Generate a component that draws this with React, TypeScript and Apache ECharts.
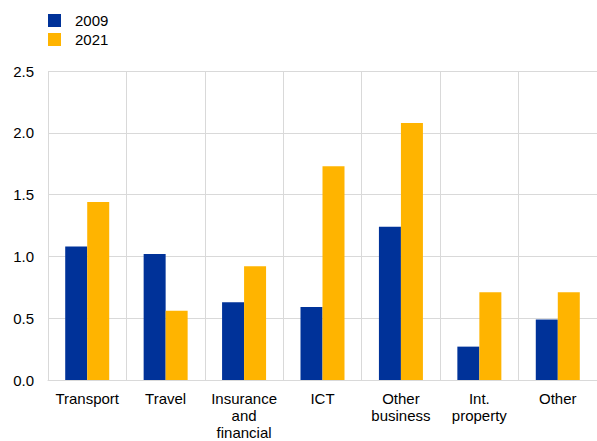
import React, { useEffect, useRef } from "react";
import * as echarts from "echarts";

const categories = ["Transport", "Travel", "Insurance\nand\nfinancial", "ICT", "Other\nbusiness", "Int.\nproperty", "Other"];
const values2009 = [1.08, 1.02, 0.63, 0.59, 1.24, 0.27, 0.49];
const values2021 = [1.44, 0.56, 0.92, 1.73, 2.08, 0.71, 0.71];
const yTicks = { min: 0, max: 2.5, interval: 0.5 };

const FONT = "Arial, 'Liberation Sans', sans-serif";

export default function App() {
  const ref = useRef<HTMLDivElement>(null);
  useEffect(() => {
    if (!ref.current) return;
    const chart = echarts.init(ref.current, undefined, { renderer: "svg" });
    chart.setOption({
      animation: false,
      textStyle: { fontFamily: FONT },
      legend: {
        orient: "vertical",
        left: 43,
        top: 8,
        itemWidth: 13,
        itemHeight: 13,
        itemGap: 4,
        icon: "rect",
        textStyle: { fontSize: 15, color: "#000", fontFamily: FONT, padding: [0, 0, 0, 9] },
        data: ["2009", "2021"],
      },
      grid: { left: 48, right: 0, top: 71, bottom: 61, containLabel: false, outerBoundsMode: "none" },
      xAxis: {
        type: "category",
        data: categories,
        boundaryGap: true,
        axisLine: { show: true, lineStyle: { color: "#d9d9d9", width: 1 } },
        axisTick: { show: false },
        splitLine: { show: true, interval: 0, lineStyle: { color: "#d9d9d9", width: 1 } },
        axisLabel: {
          interval: 0,
          margin: 10,
          fontSize: 15,
          lineHeight: 17,
          color: "#000",
          fontFamily: FONT,
        },
      },
      yAxis: {
        type: "value",
        min: yTicks.min,
        max: yTicks.max,
        interval: yTicks.interval,
        axisLine: { show: false },
        axisTick: { show: false },
        splitLine: { show: true, lineStyle: { color: "#d9d9d9", width: 1 } },
        axisLabel: {
          fontSize: 15,
          color: "#000",
          margin: 14,
          fontFamily: FONT,
          formatter: (v: number) => v.toFixed(1),
        },
      },
      series: [
        {
          name: "2009",
          type: "bar",
          data: values2009,
          barWidth: 22,
          barGap: "0%",
          itemStyle: { color: "#003299" },
        },
        {
          name: "2021",
          type: "bar",
          data: values2021,
          barWidth: 22,
          barGap: "0%",
          itemStyle: { color: "#FFB400" },
        },
      ],
    });
    return () => chart.dispose();
  }, []);
  return <div ref={ref} style={{ position: "absolute", left: 0, top: 0, width: 597, height: 441 }} />;
}
